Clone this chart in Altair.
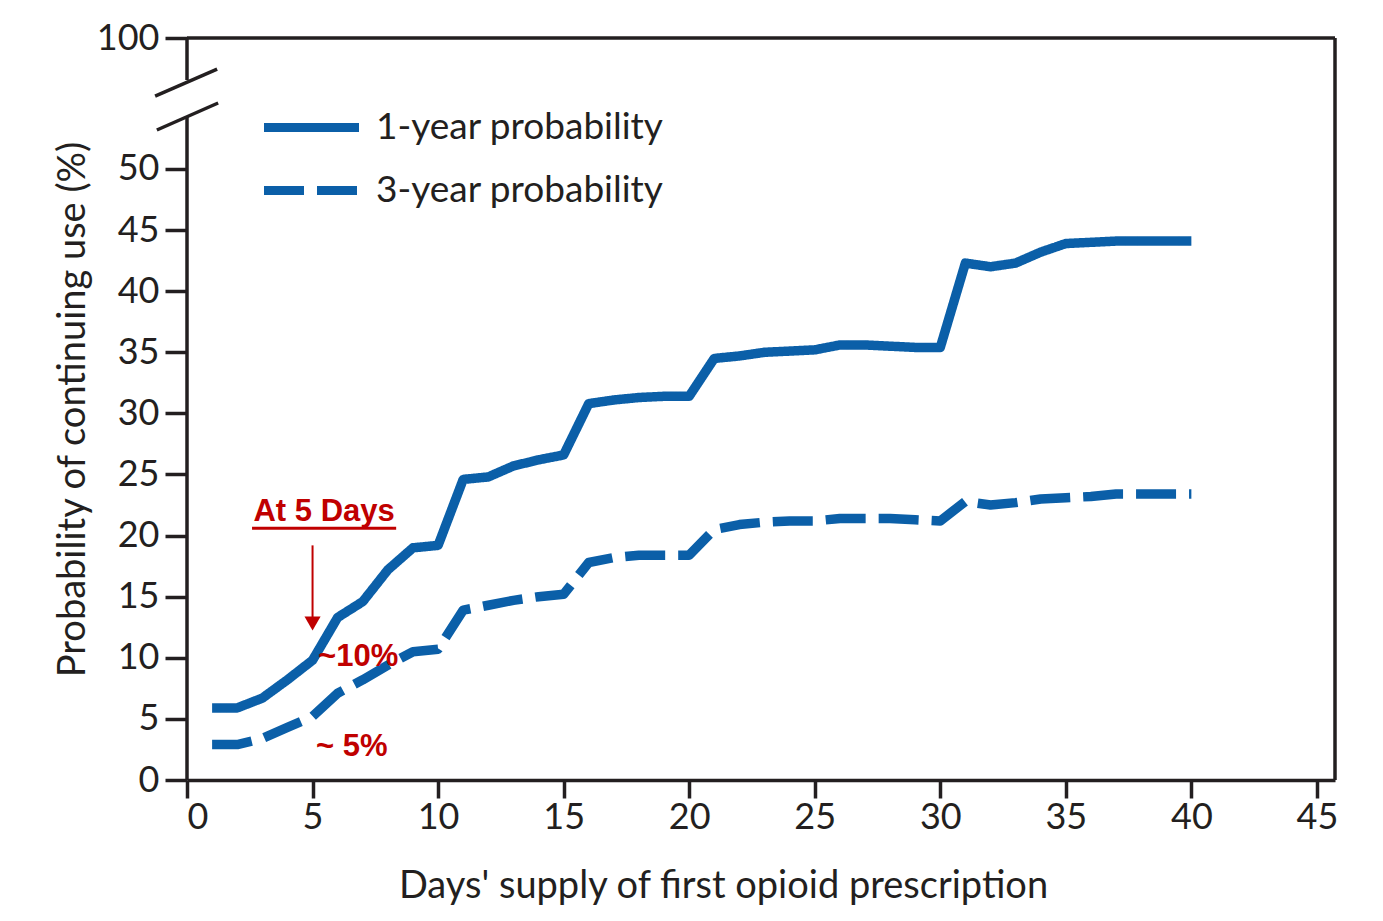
import altair as alt
import pandas as pd

days = list(range(1, 41))
one_year = [5.9, 5.9, 6.7, 8.2, 9.8, 13.3, 14.6, 17.2, 19.0, 19.2,
            24.6, 24.8, 25.7, 26.2, 26.6, 30.8, 31.1, 31.3, 31.4, 31.4,
            34.5, 34.7, 35.0, 35.1, 35.2, 35.6, 35.6, 35.5, 35.4, 35.4,
            42.3, 42.0, 42.3, 43.2, 43.9, 44.0, 44.1, 44.1, 44.1, 44.1]
three_year = [2.9, 2.9, 3.4, 4.3, 5.2, 7.1, 8.2, 9.4, 10.5, 10.7,
              13.9, 14.3, 14.7, 15.0, 15.2, 17.8, 18.2, 18.4, 18.4, 18.4,
              20.5, 20.9, 21.1, 21.2, 21.2, 21.4, 21.4, 21.4, 21.3, 21.2,
              22.8, 22.5, 22.7, 23.0, 23.1, 23.2, 23.4, 23.4, 23.4, 23.4]
series_names = ["1-year probability", "3-year probability"]
x_ticks = [0, 5, 10, 15, 20, 25, 30, 35, 40, 45]
y_ticks = [0, 5, 10, 15, 20, 25, 30, 35, 40, 45, 50]
y_top_label = "100"

X_MAX = 45.72
Y_MAX = 60.72  # broken axis: top of plot is labelled 100

BLUE = "#0b5fa8"
RED = "#c00000"
INK = "#231f20"
FONT = "Lato, sans-serif"

df = pd.DataFrame({
    "day": days * 2,
    "value": one_year + three_year,
    "series": [series_names[0]] * len(days) + [series_names[1]] * len(days),
})

xs = alt.Scale(domain=[0, X_MAX], nice=False, zero=False)
ys = alt.Scale(domain=[0, Y_MAX], nice=False, zero=False)

lines = alt.Chart(df).mark_line(strokeWidth=9.5, color=BLUE, strokeJoin="round").encode(
    x=alt.X("day:Q", scale=xs,
            axis=alt.Axis(values=x_ticks, title="Days' supply of first opioid prescription",
                          grid=False, domainColor=INK, domainWidth=3.5, tickColor=INK,
                          tickWidth=3.5, tickSize=18, labelFontSize=36, labelColor=INK,
                          labelFont=FONT, labelPadding=2, titleFont=FONT, titleFontSize=38,
                          titleFontWeight="normal", titleColor=INK, titlePadding=32,
                          titleX=536)),
    y=alt.Y("value:Q", scale=ys,
            axis=alt.Axis(values=y_ticks + [Y_MAX],
                          labelExpr=f"datum.value > 55 ? '{y_top_label}' : datum.label",
                          title="Probability of continuing use (%)", grid=False, domain=False,
                          tickColor=INK, tickWidth=3.5, tickSize=22, labelFontSize=36,
                          labelColor=INK, labelFont=FONT, labelPadding=6, titleFont=FONT,
                          titleFontSize=38, titleFontWeight="normal", titleColor=INK,
                          titlePadding=4)),
    strokeDash=alt.StrokeDash("series:N",
                              scale=alt.Scale(domain=series_names, range=[[1, 0], [40, 13]]),
                              legend=alt.Legend(title=None, orient="none", legendX=106, legendY=71,
                                                symbolType="M-4,0H4", symbolSize=564,
                                                symbolStrokeWidth=9, symbolStrokeColor=BLUE,
                                                symbolFillColor="transparent",
                                                labelFontSize=37, labelFont=FONT, labelColor=INK,
                                                labelOffset=46, rowPadding=25, labelLimit=0)),
)

# broken left axis and frame
axis_df = pd.DataFrame({
    "x": [0, 0, X_MAX, 0, -1.27, -1.20],
    "x2": [0, 0, X_MAX, X_MAX, 1.20, 1.24],
    "y": [0, 57.28, 0, Y_MAX, 55.97, 53.19],
    "y2": [54.26, Y_MAX, Y_MAX, Y_MAX, 58.18, 55.40],
})
frame = alt.Chart(axis_df).mark_rule(color=INK, strokeWidth=3.5).encode(
    x=alt.X("x:Q", scale=xs), x2="x2:Q", y=alt.Y("y:Q", scale=ys), y2="y2:Q")

# annotations
ann_text = pd.DataFrame({
    "x": [5.46, 5.22, 5.14],
    "y": [21.9, 10.1, 2.7],
    "t": ["At 5 Days", "~10%", "~ 5%"],
})
ann1 = alt.Chart(ann_text.iloc[[0]]).mark_text(
    color=RED, fontSize=31, fontWeight="bold", font="Liberation Sans, Arial",
    align="center", baseline="middle").encode(
    x=alt.X("x:Q", scale=xs), y=alt.Y("y:Q", scale=ys), text="t:N")
ann2 = alt.Chart(ann_text.iloc[1:]).mark_text(
    color=RED, fontSize=31, fontWeight="bold", font="Liberation Sans, Arial",
    align="left", baseline="middle").encode(
    x=alt.X("x:Q", scale=xs), y=alt.Y("y:Q", scale=ys), text="t:N")

red_rules_df = pd.DataFrame({
    "x": [2.59, 5.0],
    "x2": [8.33, 5.0],
    "y": [20.6, 19.2],
    "y2": [20.6, 13.0],
    "w": [3, 2],
})
red_rules = alt.Chart(red_rules_df).mark_rule(color=RED).encode(
    x=alt.X("x:Q", scale=xs), x2="x2:Q", y=alt.Y("y:Q", scale=ys), y2="y2:Q",
    strokeWidth=alt.StrokeWidth("w:Q", scale=None, legend=None))
arrow_head = alt.Chart(pd.DataFrame({"x": [5.0], "y": [12.8]})).mark_point(
    shape="triangle-down", filled=True, color=RED, size=260, opacity=1).encode(
    x=alt.X("x:Q", scale=xs), y=alt.Y("y:Q", scale=ys))

chart = alt.layer(frame, lines, red_rules, arrow_head, ann1, ann2).properties(
    width=1148, height=742,
    autosize=alt.AutoSizeParams(type="none"),
    padding={"left": 179, "top": 30, "right": 30, "bottom": 125},
    background="white",
).configure_view(stroke=None)

chart.save("out.html", embed_options={"renderer": "svg", "actions": False})
